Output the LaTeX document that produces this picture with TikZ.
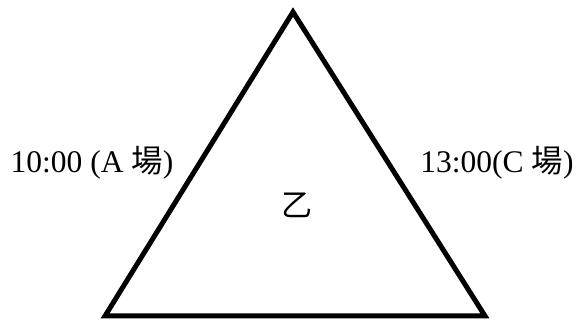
\documentclass[tikz,border=0pt]{standalone}
\usepackage{fontspec}
\setmainfont{Liberation Serif}
\newfontfamily\cjk{Noto Sans CJK TC}
\usepackage{tikz}
\usetikzlibrary{positioning}
\tikzset{
  edge line/.style={draw=black, line width=5pt, line join=miter},
  time label/.style={anchor=base, inner sep=0pt, font=\fontsize{31.5}{37}\selectfont},
  name label/.style={inner sep=0pt, font=\fontsize{31}{36}\selectfont\cjk},
}

\begin{document}
\begin{tikzpicture}[x=1pt, y=-1pt]
  \useasboundingbox (0,0) rectangle (587,323);
  \coordinate (top) at (293,12);
  \coordinate (left) at (105,316);
  \coordinate (right) at (485,316);

  \draw[edge line] (top) -- (left) -- (right) -- cycle;

  \node[time label] (timeA) at (92,173) {10:00 (A {\cjk 場})};
  \node[time label] (timeC) at (497,173) {13:00(C {\cjk 場})};
  \node[name label] (group) at (297,205) {乙};
\end{tikzpicture}
\end{document}
